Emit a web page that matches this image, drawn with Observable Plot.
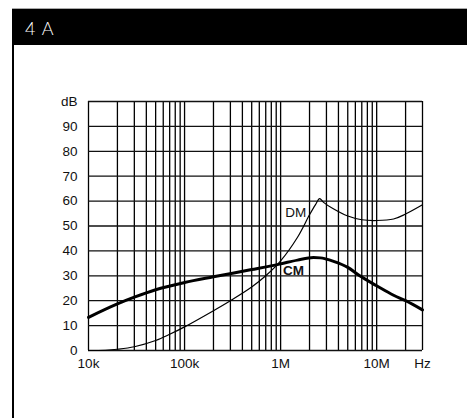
<!DOCTYPE html>
<html>
<head>
<meta charset="utf-8">
<script src="https://cdn.jsdelivr.net/npm/d3@7"></script>
<script src="https://cdn.jsdelivr.net/npm/@observablehq/plot@0.6"></script>
<style>
  html, body { margin: 0; padding: 0; background: white; width: 467px; height: 418px; overflow: hidden; }
  #header { position: absolute; left: 12px; top: 8px; width: 455px; height: 36px; background: #000; border-top: 1px solid #aaa; }
  #header span { position: absolute; left: 13px; top: 8px; color: #fff; font-family: Lato, "Open Sans", sans-serif; font-weight: 300; font-size: 18px; letter-spacing: 1px; }
  #leftline { position: absolute; left: 12px; top: 45px; width: 1.5px; height: 373px; background: #000; z-index: 5; }
  #chart { position: absolute; left: 0; top: 45px; }
</style>
</head>
<body>
<div id="header"><span>4 A</span></div>
<div id="leftline"></div>
<div id="chart"></div>
<script>
const title = "4 A";
// frequencies in Hz, attenuation in dB
const cmFreq = [1e4, 2e4, 3e4, 5e4, 1e5, 2e5, 5e5, 1e6, 1.5e6, 2.2e6, 2.6e6, 3e6, 3.5e6, 5e6, 6.6e6, 1e7, 1.5e7, 2e7, 3e7];
const cmDb   = [13.3, 18.7, 21.4, 24.4, 27.3, 29.6, 32.5, 34.8, 36.3, 37.3, 37.2, 36.7, 35.9, 33.4, 30.1, 26, 22.2, 20, 16.3];
const dmFreq = [1e4, 1.5e4, 2e4, 3e4, 5e4, 7e4, 1e5, 2e5, 3e5, 5e5, 7e5, 1e6, 1.5e6, 2e6, 2.3e6, 2.55e6, 2.8e6, 3.5e6, 5e6, 7e6, 1e7, 1.5e7, 2e7, 3e7];
const dmDb   = [0, 0.1, 0.5, 1.5, 4, 6.5, 9.5, 16, 20, 25.5, 30, 36, 45.5, 54.5, 58.5, 61, 59.5, 57, 54, 52.5, 52.2, 52.8, 54.8, 58.5];
const xTicks = [1e4, 1e5, 1e6, 1e7, 3e7];
const xTickLabels = ["10k", "100k", "1M", "10M", "Hz"];
const yTicks = [0, 10, 20, 30, 40, 50, 60, 70, 80, 90, 100];
const yTickLabels = ["0", "10", "20", "30", "40", "50", "60", "70", "80", "90", "dB"];
const seriesLabels = [
  {name: "DM", f: 1.85e6, db: 55.5},
  {name: "CM", f: 1.75e6, db: 32}
];

const cm = cmFreq.map((f, i) => ({f, db: cmDb[i]}));
const dm = dmFreq.map((f, i) => ({f, db: dmDb[i]}));

// vertical grid: 1..9 x 10^k within domain
const vGrid = [];
for (let e = 4; e <= 7; e++) for (let m = 1; m <= 9; m++) {
  const v = m * Math.pow(10, e);
  if (v <= 3e7) vGrid.push(v);
}

const font = "Arial, 'Liberation Sans', sans-serif";
const plot = Plot.plot({
  width: 467,
  height: 373,
  marginLeft: 88,
  marginRight: 45,
  marginTop: 56,
  marginBottom: 68,
  style: {background: "transparent", fontFamily: font, fontSize: "13.5px", color: "#111"},
  x: {type: "log", domain: [1e4, 3e7]},
  y: {domain: [0, 100]},
  marks: [
    Plot.ruleX(vGrid, {stroke: "#000", strokeWidth: 1.3}),
    Plot.ruleY(yTicks, {stroke: "#111", strokeWidth: 1.3}),
    Plot.axisX({ticks: xTicks, tickSize: 0, tickPadding: 8, fontSize: 13.5, fill: "#111", tickFormat: (d) => xTickLabels[xTicks.indexOf(d)], label: null}),
    Plot.axisY({ticks: yTicks, tickSize: 0, tickPadding: 11, fontSize: 13.5, fill: "#111", tickFormat: (d) => yTickLabels[yTicks.indexOf(d)], label: null}),
    Plot.line(dm, {x: "f", y: "db", stroke: "#000", strokeWidth: 1.2, curve: "catmull-rom"}),
    Plot.line(cm, {x: "f", y: "db", stroke: "#000", strokeWidth: 3, curve: "monotone-x"}),
    Plot.text([seriesLabels[0]], {x: "f", y: "db", text: "name", textAnchor: "end", fontSize: 13.5, fill: "#111"}),
    Plot.text([seriesLabels[1]], {x: "f", y: "db", text: "name", textAnchor: "end", fontSize: 13.5, fontWeight: "bold", fill: "#111"})
  ]
});
document.getElementById("chart").appendChild(plot);
</script>
</body>
</html>
